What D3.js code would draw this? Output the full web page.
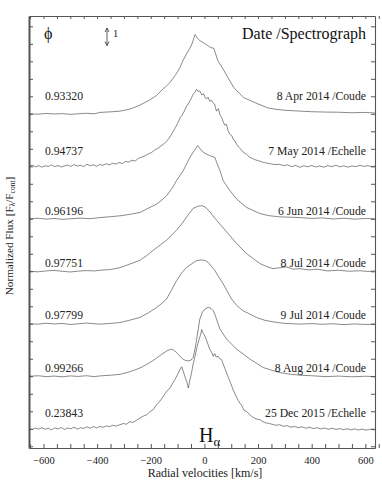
<!DOCTYPE html>
<html>
<head>
<meta charset="utf-8">
<script src="https://cdn.jsdelivr.net/npm/d3@7"></script>
<style>
    body { margin: 0; background: #fff; }
    svg text { font-family: 'Liberation Serif', 'DejaVu Serif', serif; }
    .axis path, .axis line { stroke: #555; }
    .axis text { font-size: 10.5px; fill: #222; }
</style>
</head>
<body>
<div id="chart"></div>
<script>
(() => {
    // ---- data: [velocity km/s, normalized flux] ----
    let sApr = [[-654,1.00],[-620,0.98],[-590,1.02],[-560,0.99],[-530,1.01],[-500,0.97],[-470,1.00],[-440,1.03],[-410,1.00],[-389,1.08],[-352,1.11],[-315,1.15],[-277,1.27],[-240,1.50],[-203,1.80],[-178,2.05],[-166,2.25],[-141,2.60],[-128,2.80],[-116,3.05],[-102,3.35],[-91,3.65],[-80,4.04],[-64,4.50],[-54,4.75],[-45,5.05],[-35,5.53],[-25,5.30],[-17,5.18],[2,5.01],[24,4.78],[35,4.75],[50,4.04],[70,3.55],[88,3.06],[110,2.49],[147,1.92],[199,1.57],[236,1.34],[270,1.25],[300,1.20],[350,1.16],[400,1.12],[450,1.10],[500,1.09],[550,1.06],[590,1.08],[635,1.05]];

    let sMay = [[-654,1.00],[-642,1.06],[-630,0.97],[-618,1.04],[-606,0.95],[-594,1.03],[-582,0.99],[-570,1.08],[-558,0.98],[-546,1.05],[-534,0.96],[-522,1.02],[-510,1.07],[-498,0.99],[-486,1.10],[-474,1.01],[-462,1.06],[-450,0.98],[-438,1.12],[-426,1.03],[-414,1.09],[-402,1.00],[-390,1.10],[-378,1.06],[-366,1.15],[-354,1.08],[-342,1.18],[-330,1.12],[-318,1.22],[-306,1.16],[-294,1.28],[-282,1.24],[-270,1.35],[-258,1.30],[-246,1.46],[-234,1.52],[-222,1.60],[-210,1.70],[-198,1.78],[-186,1.92],[-174,2.02],[-162,2.16],[-150,2.30],[-141,2.43],[-132,2.60],[-124,2.80],[-116,3.01],[-108,3.22],[-100,3.45],[-91,3.77],[-84,3.90],[-76,4.12],[-66,4.44],[-58,4.62],[-50,4.85],[-42,5.11],[-36,5.22],[-29,5.40],[-24,5.28],[-17,5.30],[-10,5.08],[-3,5.15],[4,4.90],[8,4.84],[14,4.95],[20,4.70],[26,4.78],[32,4.63],[38,4.55],[45,4.15],[52,4.30],[58,3.95],[64,3.80],[69,3.58],[76,3.35],[82,3.40],[88,3.05],[95,2.83],[102,2.75],[108,2.52],[114,2.45],[120,2.26],[128,2.10],[136,1.98],[145,1.80],[157,1.69],[168,1.52],[180,1.44],[192,1.36],[207,1.29],[220,1.22],[234,1.18],[248,1.14],[262,1.10],[281,1.11],[295,1.04],[310,1.08],[325,0.98],[340,1.05],[356,0.94],[370,1.03],[385,0.97],[400,1.05],[415,0.96],[430,1.02],[445,0.95],[460,1.04],[475,0.98],[490,1.06],[505,0.97],[520,1.03],[535,0.95],[550,1.02],[565,0.98],[580,1.06],[595,0.99],[610,1.04],[625,0.97],[635,1.02]];

    let sJun = [[-654,1.00],[-620,1.03],[-590,0.98],[-560,1.02],[-530,0.97],[-500,1.00],[-460,1.04],[-430,1.00],[-389,1.07],[-350,1.12],[-315,1.17],[-280,1.25],[-240,1.36],[-210,1.60],[-178,1.84],[-160,2.05],[-141,2.32],[-120,2.75],[-104,3.18],[-90,3.50],[-79,3.75],[-66,4.15],[-54,4.51],[-40,4.85],[-25,5.18],[-15,4.98],[-4,4.80],[10,4.68],[20,4.61],[39,4.51],[50,4.05],[58,3.75],[70,3.18],[95,2.61],[120,2.13],[157,1.65],[207,1.30],[240,1.18],[281,1.11],[320,1.09],[356,1.07],[400,1.02],[440,1.05],[480,0.99],[520,1.03],[560,0.98],[600,1.02],[635,1.00]];

    let sJul8 = [[-654,1.00],[-620,0.97],[-590,1.02],[-560,1.05],[-530,1.00],[-500,0.96],[-470,1.01],[-440,1.04],[-410,1.02],[-389,1.06],[-350,1.10],[-315,1.21],[-280,1.40],[-240,1.63],[-215,1.90],[-191,2.20],[-165,2.50],[-141,2.78],[-120,3.10],[-104,3.35],[-85,3.70],[-66,4.11],[-42,4.59],[-23,4.72],[-10,4.75],[2,4.68],[20,4.40],[45,3.92],[83,3.25],[120,2.59],[157,2.01],[207,1.44],[235,1.25],[256,1.15],[280,1.20],[306,1.25],[330,1.12],[356,1.15],[390,1.08],[420,1.12],[460,1.02],[500,1.06],[540,1.00],[580,1.03],[610,0.99],[635,1.02]];

    let sJul9 = [[-654,1.00],[-620,0.98],[-590,1.03],[-560,0.99],[-530,1.02],[-500,0.96],[-470,1.00],[-440,1.04],[-410,1.00],[-389,0.98],[-350,1.02],[-315,1.07],[-280,1.20],[-240,1.36],[-210,1.62],[-178,1.93],[-160,2.15],[-141,2.42],[-120,3.00],[-104,3.46],[-85,3.90],[-66,4.23],[-45,4.45],[-29,4.61],[-10,4.65],[5,4.60],[14,4.51],[39,4.04],[70,3.28],[101,2.42],[120,2.05],[144,1.74],[170,1.55],[194,1.36],[225,1.20],[256,1.11],[300,1.02],[356,0.98],[400,1.01],[440,0.97],[480,1.00],[520,0.95],[560,0.99],[600,0.96],[635,0.98]];

    let sAug = [[-654,1.00],[-620,1.03],[-590,0.98],[-560,1.01],[-530,0.97],[-500,1.02],[-470,0.99],[-440,1.03],[-410,0.98],[-389,1.02],[-350,1.06],[-315,1.11],[-280,1.25],[-252,1.40],[-230,1.55],[-203,1.79],[-180,2.02],[-159,2.26],[-140,2.45],[-125,2.55],[-115,2.50],[-104,2.36],[-90,2.12],[-79,1.97],[-70,1.90],[-60,1.88],[-50,1.92],[-42,2.07],[-35,2.55],[-29,3.12],[-23,3.70],[-17,4.27],[-8,4.65],[2,4.84],[14,4.94],[25,4.88],[33,4.74],[40,4.50],[45,4.27],[58,3.69],[83,3.12],[120,2.55],[171,1.97],[219,1.50],[250,1.35],[281,1.21],[320,1.12],[356,1.06],[400,1.03],[450,0.98],[500,1.01],[550,0.97],[600,1.00],[635,0.98]];

    let sDec = [[-654,1.00],[-642,0.95],[-630,1.04],[-618,0.98],[-606,1.06],[-594,0.97],[-582,1.03],[-570,0.94],[-558,1.05],[-546,0.99],[-534,1.07],[-522,0.96],[-510,1.04],[-498,1.00],[-486,1.09],[-474,0.98],[-462,1.06],[-450,1.02],[-438,1.11],[-426,1.03],[-414,1.13],[-402,1.05],[-389,1.13],[-378,1.08],[-366,1.16],[-354,1.12],[-342,1.20],[-330,1.15],[-315,1.23],[-302,1.30],[-290,1.26],[-278,1.40],[-266,1.36],[-252,1.50],[-240,1.61],[-228,1.72],[-215,1.80],[-203,1.98],[-191,2.09],[-180,2.35],[-170,2.50],[-160,2.70],[-153,2.85],[-146,3.02],[-140,3.15],[-134,3.26],[-128,3.33],[-120,3.55],[-110,3.81],[-100,4.10],[-91,4.38],[-85,4.54],[-79,4.30],[-73,4.00],[-66,3.70],[-60,3.33],[-54,3.80],[-48,4.19],[-42,4.70],[-35,5.14],[-28,5.65],[-20,6.10],[-14,6.40],[-10,6.67],[-4,6.45],[2,6.29],[8,6.05],[14,5.80],[20,5.53],[26,5.40],[33,5.14],[38,5.30],[44,5.10],[51,5.14],[57,5.00],[64,4.95],[70,4.70],[76,4.45],[83,4.19],[90,3.90],[98,3.60],[107,3.23],[114,3.00],[120,2.80],[126,2.62],[132,2.47],[140,2.30],[148,2.05],[157,1.99],[166,1.85],[175,1.72],[185,1.62],[196,1.55],[207,1.52],[218,1.40],[230,1.33],[242,1.30],[254,1.25],[268,1.20],[281,1.23],[294,1.14],[308,1.18],[322,1.09],[336,1.13],[350,1.06],[364,1.11],[378,1.03],[392,1.09],[406,1.01],[420,1.06],[434,0.99],[448,1.04],[462,0.97],[476,1.03],[490,0.96],[504,1.01],[518,0.95],[532,1.00],[546,0.94],[560,0.99],[574,0.93],[588,0.98],[602,0.92],[616,0.97],[635,0.93]];

    let spectra = [sApr, sMay, sJun, sJul8, sJul9, sAug, sDec];
    let offsets = [18, 15, 12, 9, 6, 3, 0];
    let phases = ["0.93320", "0.94737", "0.96196", "0.97751", "0.97799", "0.99266", "0.23843"];
    let dates = ["8 Apr 2014 /Coude", "7 May 2014 /Echelle", "6 Jun 2014 /Coude", "8 Jul 2014 /Coude",
                 "9 Jul 2014 /Coude", "8 Aug 2014 /Coude", "25 Dec 2015 /Echelle"];
    let velTicks = [-600, -400, -200, 0, 200, 400, 600];
    let fluxTicks = d3.range(0, 25);

    // label rows (flux units on the stacked axis)
    let labelY = [20.0, 16.9, 13.45, 10.45, 7.5, 4.45, 1.9];

    let w = 382;
    let h = 485;
    let left = 29, right = 375, top = 16, bottom = 448;
    let serif = "'Liberation Serif', 'DejaVu Serif', serif";

    let svg = d3.select("#chart")
        .append("svg")
        .attr("width", w)
        .attr("height", h)
        .attr("font-family", serif);

    let x = d3.scaleLinear()
        .domain([-654, 636])
        .range([left, right]);

    let y = d3.scaleLinear()
        .domain([-0.1, 24.59])
        .range([bottom, top]);

    let minor = d3.range(-650, 651, 50);

    let xb = svg.append("g")
        .attr("class", "axis")
        .attr("transform", "translate(0," + bottom + ")")
        .call(d3.axisBottom(x).tickValues(minor).tickSizeInner(-4).tickSizeOuter(0)
            .tickPadding(9)
            .tickFormat(d => velTicks.includes(d) ? d3.format("")(d).replace("-", "\u2212") : ""));

    svg.append("g")
        .attr("class", "axis")
        .attr("transform", "translate(0," + top + ")")
        .call(d3.axisTop(x).tickValues(minor).tickSizeInner(-3).tickSizeOuter(0).tickFormat(""));

    let yl = svg.append("g")
        .attr("class", "axis")
        .attr("transform", "translate(" + left + ",0)")
        .call(d3.axisLeft(y).tickValues(fluxTicks).tickSizeInner(-4).tickSizeOuter(0).tickFormat(""));

    svg.append("g")
        .attr("class", "axis")
        .attr("transform", "translate(" + right + ",0)")
        .call(d3.axisRight(y).tickValues(fluxTicks).tickSizeInner(-4).tickSizeOuter(0).tickFormat(""));

    svg.selectAll(".axis .domain").attr("stroke", "#555").attr("stroke-width", 1.1);
    yl.select(".domain").attr("stroke", "#777").attr("stroke-width", 2);
    xb.selectAll("text").attr("font-size", 10.5);

    // spectra
    let line = d3.line()
        .x(d => x(d[0]))
        .y(d => y(d[1]));

    svg.selectAll(".spec")
        .data(spectra)
        .enter()
        .append("path")
        .attr("class", "spec")
        .attr("fill", "none")
        .attr("stroke", "#3a3a3a")
        .attr("stroke-width", 0.6)
        .attr("d", (d, i) => line(d.map(p => [p[0], p[1] + offsets[i]])));

    svg.selectAll(".phase")
        .data(phases)
        .enter()
        .append("text")
        .attr("class", "phase")
        .attr("x", 45)
        .attr("y", (d, i) => y(labelY[i]) + 4)
        .attr("font-size", 11.7)
        .attr("fill", "#222")
        .text(d => d);

    svg.selectAll(".date")
        .data(dates)
        .enter()
        .append("text")
        .attr("class", "date")
        .attr("x", 366)
        .attr("y", (d, i) => y(labelY[i]) + 4)
        .attr("text-anchor", "end")
        .attr("font-size", 11.7)
        .attr("fill", "#222")
        .text(d => d);

    // header
    svg.append("text")
        .attr("x", 44).attr("y", 39)
        .attr("font-size", 16)
        .attr("fill", "#111")
        .text("\u03D5");

    svg.append("text")
        .attr("x", 366).attr("y", 39)
        .attr("text-anchor", "end")
        .attr("font-size", 16)
        .attr("fill", "#111")
        .text("Date /Spectrograph");

    // scale arrow: one flux unit
    let ax = 107;
    svg.append("line")
        .attr("x1", ax).attr("x2", ax)
        .attr("y1", y(23.9)).attr("y2", y(22.9))
        .attr("stroke", "#333").attr("stroke-width", 0.8);
    svg.append("path")
        .attr("d", "M" + (ax - 2) + "," + (y(23.9) + 4) + "L" + ax + "," + y(23.9) + "L" + (ax + 2) + "," + (y(23.9) + 4)
            + "M" + (ax - 2) + "," + (y(22.9) - 4) + "L" + ax + "," + y(22.9) + "L" + (ax + 2) + "," + (y(22.9) - 4))
        .attr("fill", "none")
        .attr("stroke", "#333").attr("stroke-width", 0.8);
    svg.append("text")
        .attr("x", 113).attr("y", 37)
        .attr("font-size", 10.5)
        .attr("fill", "#222")
        .text("1");

    // H alpha
    let ha = svg.append("text")
        .attr("x", 199).attr("y", 442)
        .attr("font-size", 20)
        .attr("fill", "#111");
    ha.append("tspan").text("H");
    ha.append("tspan").attr("font-size", 13).attr("dy", 4).text("\u03B1");

    // axis titles
    svg.append("text")
        .attr("x", (left + right) / 2 + 3).attr("y", 477)
        .attr("text-anchor", "middle")
        .attr("font-size", 12)
        .attr("fill", "#222")
        .text("Radial velocities [km/s]");

    let yt = svg.append("text")
        .attr("transform", "translate(13,236) rotate(-90)")
        .attr("text-anchor", "middle")
        .attr("font-size", 11.2)
        .attr("fill", "#222");
    yt.append("tspan").text("Normalized Flux [F");
    yt.append("tspan").attr("font-size", 7.5).attr("dy", 2.2).text("\u03BB");
    yt.append("tspan").attr("dy", -2.2).text("/F");
    yt.append("tspan").attr("font-size", 7.5).attr("dy", 2.2).text("cont");
    yt.append("tspan").attr("dy", -2.2).text("]");
})();
</script>
</body>
</html>
